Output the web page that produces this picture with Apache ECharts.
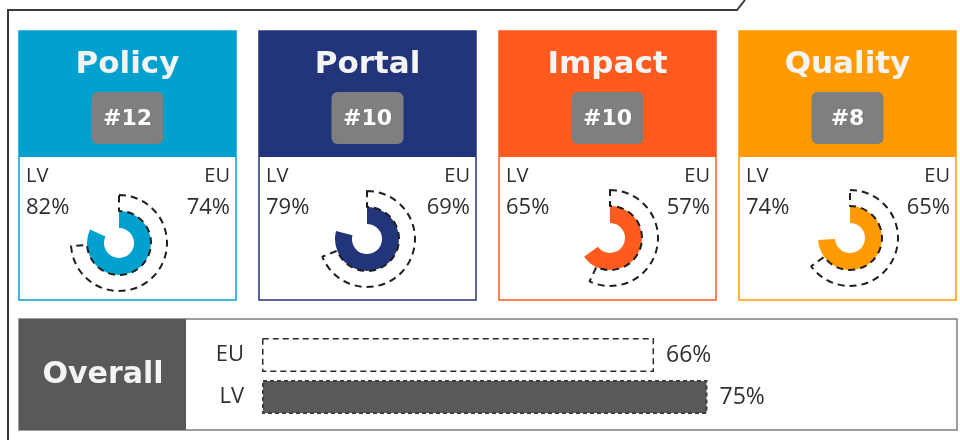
<!DOCTYPE html>
<html>
<head>
<meta charset="utf-8">
<script src="https://cdn.jsdelivr.net/npm/echarts@6/dist/echarts.min.js"></script>
<style>
  html, body { margin: 0; padding: 0; background: #fff; }
  #chart { width: 960px; height: 440px; }
</style>
</head>
<body>
<div id="chart"></div>
<script>
// scores per area (LV = Latvia, EU = EU average)
const areas = ["Policy", "Portal", "Impact", "Quality"];
const ranks = ["#12", "#10", "#10", "#8"];
const lvScores = [82, 79, 65, 74];
const euScores = [74, 69, 57, 65];

// overall bar
const overallLabels = ["EU", "LV"];
const overallScores = [66, 75];

// layout / style
const areaColors = ["#00A0CF", "#22357A", "#FF5B1F", "#FF9A00"];
const cardLeft = [19, 259, 499, 739];
const cardWidth = 217;
const gaugeCenters = [[119, 243], [367, 239], [610, 238], [850, 238]];
const titleFont = "DejaVu Sans";
const textFont = "Open Sans";
const textColor = "#2f2f2f";

const chart = echarts.init(document.getElementById("chart"));

let graphics = [
  {
    type: "polyline",
    shape: { points: [[8, 440], [8, 10], [737, 10], [745, 0]] },
    style: { stroke: "#3a3a3a", lineWidth: 2, fill: null }
  }
];

areas.forEach((name, i) => {
  const x = cardLeft[i];
  const cx = x + cardWidth / 2;
  graphics.push(
    {
      type: "rect",
      shape: { x: x, y: 31, width: cardWidth, height: 269 },
      style: { fill: "#fff", stroke: areaColors[i], lineWidth: 1.5 }
    },
    {
      type: "rect",
      shape: { x: x, y: 31, width: cardWidth, height: 126 },
      style: { fill: areaColors[i] }
    },
    {
      type: "text",
      x: cx, y: 65,
      style: {
        text: name, fill: "#f4f4f4", font: "bold 31px '" + titleFont + "'",
        align: "center", verticalAlign: "middle"
      }
    },
    {
      type: "rect",
      shape: { x: cx - 36, y: 92, width: 72, height: 52, r: 6 },
      style: { fill: "#7f7f7f" }
    },
    {
      type: "text",
      x: cx, y: 119,
      style: {
        text: ranks[i], fill: "#fff", font: "bold 22px '" + titleFont + "'",
        align: "center", verticalAlign: "middle"
      }
    },
    {
      type: "text",
      x: x + 7, y: 176,
      style: { text: "LV", fill: textColor, font: "20px '" + textFont + "'", align: "left", verticalAlign: "middle" }
    },
    {
      type: "text",
      x: x + 7, y: 208,
      style: { text: lvScores[i] + "%", fill: textColor, font: "22px '" + textFont + "'", align: "left", verticalAlign: "middle" }
    },
    {
      type: "text",
      x: x + cardWidth - 6, y: 176,
      style: { text: "EU", fill: textColor, font: "20px '" + textFont + "'", align: "right", verticalAlign: "middle" }
    },
    {
      type: "text",
      x: x + cardWidth - 6, y: 208,
      style: { text: euScores[i] + "%", fill: textColor, font: "22px '" + textFont + "'", align: "right", verticalAlign: "middle" }
    }
  );
});

graphics.push(
  {
    type: "rect",
    shape: { x: 19, y: 319, width: 938, height: 111 },
    style: { fill: "#fff", stroke: "#7f7f7f", lineWidth: 1.5 }
  },
  {
    type: "rect",
    shape: { x: 19, y: 319, width: 167, height: 111 },
    style: { fill: "#595959" }
  },
  {
    type: "text",
    x: 103, y: 375,
    style: {
      text: "Overall", fill: "#f4f4f4", font: "bold 30px '" + titleFont + "'",
      align: "center", verticalAlign: "middle"
    }
  }
);
graphics.forEach(g => { g.z = 0; g.silent = true; });

let series = [];
areas.forEach((name, i) => {
  series.push({
    type: "pie",
    silent: true,
    z: 2,
    center: gaugeCenters[i],
    radius: [15, 32],
    startAngle: 90,
    clockwise: true,
    label: { show: false },
    labelLine: { show: false },
    data: [
      { value: lvScores[i], itemStyle: { color: areaColors[i], borderWidth: 0 } },
      { value: 100 - lvScores[i], itemStyle: { color: "rgba(0,0,0,0)", borderWidth: 0 } }
    ]
  });
  series.push({
    type: "pie",
    silent: true,
    z: 3,
    center: gaugeCenters[i],
    radius: [32, 48],
    startAngle: 90,
    clockwise: true,
    label: { show: false },
    labelLine: { show: false },
    data: [
      {
        value: euScores[i],
        itemStyle: { color: "rgba(0,0,0,0)", borderColor: "#1e1e1e", borderWidth: 2, borderType: [7, 5] }
      },
      { value: 100 - euScores[i], itemStyle: { color: "rgba(0,0,0,0)", borderWidth: 0 } }
    ]
  });
});

series.push({
  type: "bar",
  silent: true,
  z: 2,
  barWidth: 34,
  data: overallScores.map((v, i) => ({
    value: v,
    itemStyle: i === 0
      ? { color: "#fff", borderColor: "#2a2a2a", borderWidth: 1.5, borderType: [6, 4] }
      : { color: "#595959", borderColor: "#3f3f3f", borderWidth: 2, borderType: [4, 3] }
  })),
  label: {
    show: true,
    position: "right",
    distance: 12,
    formatter: "{c}%",
    fontFamily: textFont,
    fontSize: 23,
    color: textColor
  }
});

const option = {
  animation: false,
  graphic: { elements: graphics },
  grid: { left: 262, top: 334, width: 594, height: 84 },
  xAxis: { type: "value", min: 0, max: 100, show: false },
  yAxis: {
    type: "category",
    data: overallLabels,
    inverse: true,
    axisLine: { show: false },
    axisTick: { show: false },
    axisLabel: { margin: 18, fontFamily: textFont, fontSize: 22, color: textColor }
  },
  series: series
};

chart.setOption(option);
</script>
</body>
</html>
